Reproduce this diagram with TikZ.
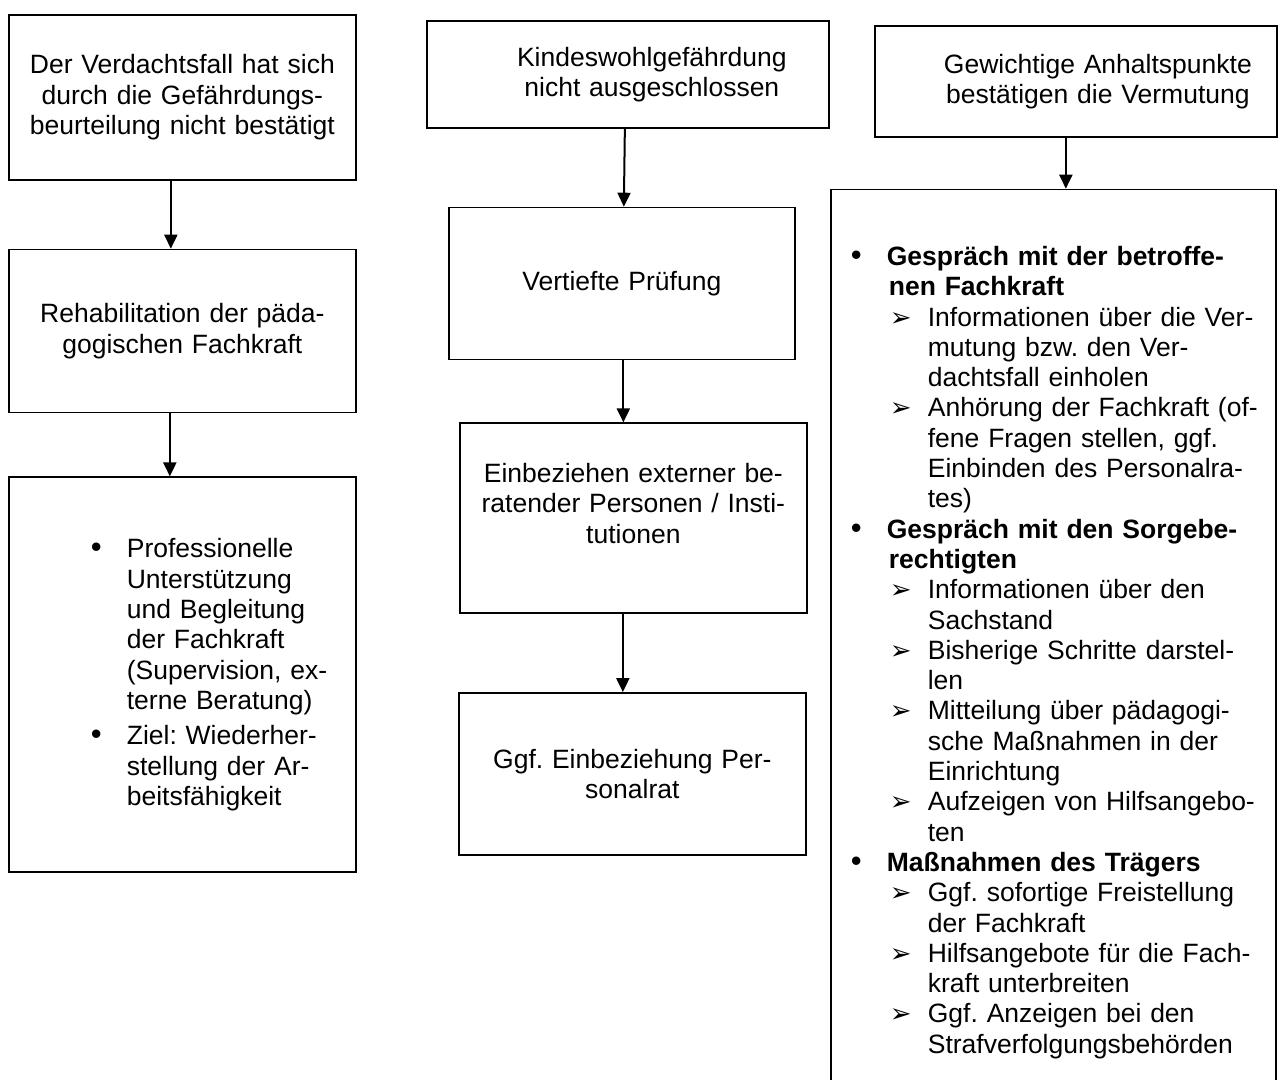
\documentclass[tikz,border=0pt]{standalone}
\usepackage{fontspec}
\setmainfont{Liberation Sans}
\newfontfamily\symfont{DejaVu Sans}
\usetikzlibrary{positioning,arrows.meta}
\frenchspacing

\newcommand{\dotmark}{{\fontsize{31}{31}\selectfont\textbullet}}
\newcommand{\arrmark}{{\symfont\fontsize{26}{26}\selectfont ➢}}
\newcommand{\bl}[2]{\hspace*{#1}\makebox[36pt][l]{\dotmark}#2}
\newcommand{\al}[1]{\hspace*{59pt}\makebox[38pt][l]{\arrmark}#1}
\newcommand{\cl}[2]{\hspace*{#1}#2}

\tikzset{
  box/.style={draw, line width=1.7pt, inner sep=0pt, align=center,
    font=\fontsize{26.5}{30.3}\selectfont},
  arr/.style={line width=2pt, -{Triangle[width=13pt,length=14pt]}}
}

\begin{document}
\begin{tikzpicture}[x=1pt, y=-1pt]
\useasboundingbox (0,0) rectangle (1281,1079);
\clip (0,0) rectangle (1281,1079);

  % left column
  \node (A) [box, anchor=north west, text width=347pt, minimum height=165pt] at (8,14)
    {Der Verdachtsfall hat sich\\durch die Gefährdungs-\\beurteilung nicht bestätigt};
  \node (B) [box, below=68pt of A, text width=347pt, minimum height=163pt]
    {Rehabilitation der päda-\\gogischen Fachkraft};
  \node (C) [box, below=63pt of B, text width=347pt, minimum height=395pt, align=left]
    {\bl{82pt}{Professionelle}\\
     \cl{118pt}{Unterstützung}\\
     \cl{118pt}{und Begleitung}\\
     \cl{118pt}{der Fachkraft}\\
     \cl{118pt}{(Supervision, ex-}\\
     \cl{118pt}{terne Beratung)}\\[5pt]
     \bl{82pt}{Ziel: Wiederher-}\\
     \cl{118pt}{stellung der Ar-}\\
     \cl{118pt}{beitsfähigkeit}};

  % middle column
  \node (D) [box, anchor=north west, text width=402pt, minimum height=107pt] at (426,20)
    {\hspace*{48pt}Kindeswohlgefährdung\\\hspace*{48pt}nicht ausgeschlossen};
  \node (E) [box, below=78pt of D, xshift=-6pt, text width=346pt, minimum height=152pt]
    {Vertiefte Prüfung};
  \node (F) [box, below=62pt of E, xshift=11.5pt, text width=347pt, minimum height=190pt]
    {Einbeziehen externer be-\\ratender Personen / Insti-\\tutionen\\\mbox{}};
  \node (G) [box, below=78pt of F, xshift=-1pt, text width=347pt, minimum height=162pt]
    {Ggf. Einbeziehung Per-\\sonalrat};

  % right column
  \node (H) [box, anchor=north west, text width=402pt, minimum height=111pt] at (874,25)
    {\hspace*{44pt}Gewichtige Anhaltspunkte\\\hspace*{44pt}bestätigen die Vermutung};
  \node (I) [box, below=51pt of H, xshift=-22.5pt, text width=445pt, inner ysep=56.7pt, align=left]
    {\bl{20pt}{\textbf{Gespräch mit der betroffe-}}\\
     \cl{58pt}{\textbf{nen Fachkraft}}\\
     \al{Informationen über die Ver-}\\
     \cl{97pt}{mutung bzw. den Ver-}\\
     \cl{97pt}{dachtsfall einholen}\\
     \al{Anhörung der Fachkraft (of-}\\
     \cl{97pt}{fene Fragen stellen, ggf.}\\
     \cl{97pt}{Einbinden des Personalra-}\\
     \cl{97pt}{tes)}\\
     \bl{20pt}{\textbf{Gespräch mit den Sorgebe-}}\\
     \cl{58pt}{\textbf{rechtigten}}\\
     \al{Informationen über den}\\
     \cl{97pt}{Sachstand}\\
     \al{Bisherige Schritte darstel-}\\
     \cl{97pt}{len}\\
     \al{Mitteilung über pädagogi-}\\
     \cl{97pt}{sche Maßnahmen in der}\\
     \cl{97pt}{Einrichtung}\\
     \al{Aufzeigen von Hilfsangebo-}\\
     \cl{97pt}{ten}\\
     \bl{20pt}{\textbf{Maßnahmen des Trägers}}\\
     \al{Ggf. sofortige Freistellung}\\
     \cl{97pt}{der Fachkraft}\\
     \al{Hilfsangebote für die Fach-}\\
     \cl{97pt}{kraft unterbreiten}\\
     \al{Ggf. Anzeigen bei den}\\
     \cl{97pt}{Strafverfolgungsbehörden}};

  \draw[arr] ([xshift=-11.5pt]A.south) -- ([xshift=-11.5pt]A.south |- B.north);
  \draw[arr] ([xshift=-12.5pt]B.south) -- ([xshift=-12.5pt]B.south |- C.north);
  \draw[arr] ([xshift=-3pt]D.south) -- ([xshift=2pt]E.north);
  \draw[arr] ([xshift=1.5pt]E.south) -- ([xshift=1.5pt]E.south |- F.north);
  \draw[arr] ([xshift=-10.5pt]F.south) -- ([xshift=-10.5pt]F.south |- G.north);
  \draw[arr] ([xshift=-10pt]H.south) -- ([xshift=-10pt]H.south |- I.north);

\end{tikzpicture}
\end{document}
